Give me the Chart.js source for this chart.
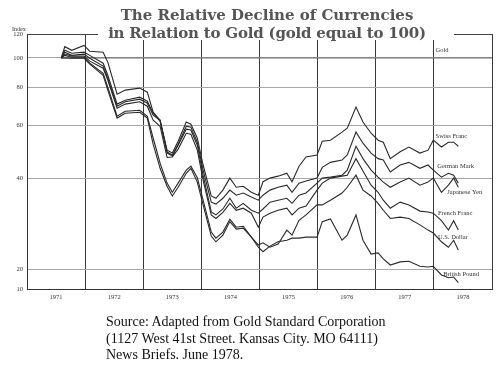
<!DOCTYPE html>
<html lang="en">
<head>
<meta charset="UTF-8">
<title>The Relative Decline of Currencies in Relation to Gold</title>
<script src="https://cdn.jsdelivr.net/npm/chart.js"></script>
<style>
    body { margin: 0; background: #fff; }
    #wrap { position: relative; width: 500px; height: 373px; }
    #chart { position: absolute; left: 0; top: 0; }
    .title {
        position: absolute; left: 0; width: 534px; text-align: center;
        font-family: "DejaVu Serif", serif; font-weight: bold; font-size: 15px;
        color: #555; white-space: nowrap; line-height: 18px;
    }
    #titleBg { position: absolute; left: 98px; top: 26px; width: 356px; height: 14px; background: #fff; }
    #index { position: absolute; left: 12px; top: 26px; font: 6px "Liberation Serif", serif; color: #333; }
    #source {
        position: absolute; left: 106px; top: 314px;
        font-family: "Liberation Serif", serif; font-size: 14px; line-height: 16.5px; color: #111;
    }
</style>
</head>
<body>
<div id="wrap">
    <canvas id="chart" width="500" height="373"></canvas>
    <div id="titleBg"></div>
    <div class="title" style="top:6px">The Relative Decline of Currencies</div>
    <div class="title" style="top:24px; letter-spacing:-0.2px">in Relation to Gold (gold equal to 100)</div>
    <div id="index">Index</div>
    <div id="source">Source: Adapted from Gold Standard Corporation<br>(1127 West 41st Street. Kansas City. MO 64111)<br>News Briefs. June 1978.</div>
</div>
<script>
// time points (decimal years) shared by all currencies
const years = [1971.59, 1971.65, 1971.77, 1971.98, 1972.08, 1972.31, 1972.39, 1972.55, 1972.69, 1972.94,
    1973.07, 1973.17, 1973.29, 1973.41, 1973.50, 1973.60, 1973.74, 1973.82, 1973.93, 1974.03,
    1974.17, 1974.25, 1974.37, 1974.49, 1974.60, 1974.72, 1974.86, 1974.98, 1975.06, 1975.18,
    1975.32, 1975.47, 1975.56, 1975.68, 1975.80, 1975.99, 1976.08, 1976.22, 1976.42, 1976.51,
    1976.66, 1976.78, 1976.92, 1977.04, 1977.13, 1977.25, 1977.42, 1977.57, 1977.76, 1977.90,
    1977.99, 1978.13, 1978.25, 1978.34, 1978.42];

const swissFranc = [100, 104.5, 102, 103, 99.8, 94, 85.7, 69.3, 71.7, 73.1,
    70.9, 64.7, 62.3, 49.6, 48.5, 53.1, 61.4, 60.4, 54.3, 44.3,
    35, 34.4, 36.6, 40.1, 37.4, 37.7, 36, 35.2, 39, 40.1,
    40.7, 41.6, 39, 43.9, 47.1, 47.8, 53.1, 53.5, 56.9, 58.6,
    68.8, 61.4, 56.4, 53.5, 52.7, 46.5, 49, 50.8, 48.5, 49.6,
    53.5, 50.8, 52.7, 52.7, 51.1];
const germanMark = [100, 106, 103.7, 104.5, 102, 96.1, 87.7, 70.4, 72.5, 74.2,
    72, 65.7, 61.8, 48.9, 47.8, 51.9, 59.5, 59.1, 52.7, 42.6,
    33.4, 32.9, 34.4, 36.6, 35.2, 35.8, 34.7, 33.9, 35.2, 36.6,
    37.4, 38, 36, 38.6, 39.2, 40.1, 43.5, 45.2, 46, 47.8,
    56.9, 52.3, 48.5, 46.5, 46, 42, 44.3, 45.2, 43.2, 44.3,
    42.6, 40.4, 41.6, 41, 38.6];
const japaneseYen = [100, 109, 106, 110, 105.3, 104.5, 96.9, 75.9, 78.3, 79.5,
    77.1, 66.2, 62.3, 48.5, 47.4, 51.5, 58.2, 57.8, 51.5, 41,
    31, 30.3, 31.7, 34.4, 31.9, 33.1, 31.4, 30.7, 31.7, 33.4,
    33.9, 34.4, 33.1, 35.2, 35.8, 38.6, 40.1, 40.4, 41, 42.6,
    51.1, 46.5, 42.6, 40.4, 38.9, 37.4, 38.9, 40.1, 38, 38.9,
    40.1, 36, 38, 40.1, 37.4];
const frenchFranc = [100, 103, 101.4, 101.4, 97.6, 92.5, 84.5, 68.2, 70.4, 71.7,
    69.3, 62.3, 59.5, 46.9, 47.1, 50, 56.4, 56, 49.6, 39.5,
    30.3, 29.5, 30.9, 33.1, 31.4, 31.9, 30.7, 27.6, 29.8, 30.7,
    31.4, 31.9, 30.3, 31.9, 32.4, 36.6, 38.6, 40.1, 40.7, 41,
    46.5, 42.3, 38, 36, 33.9, 31.9, 33.4, 32.7, 31.2, 31,
    30.7, 29, 27, 29, 27];
const usDollar = [100, 100, 99.8, 99.8, 95.4, 87.7, 78.3, 63.3, 65.7, 66.2,
    63.3, 51.9, 43.2, 37.7, 35, 37.4, 41.6, 43.2, 38.9, 32.7,
    25.8, 24.7, 26, 28.8, 27.2, 27.4, 25.6, 24.1, 24.5, 23.7,
    24.3, 27, 26, 29.1, 30.3, 32.7, 32.7, 33.9, 35.8, 37.4,
    41, 36.6, 35, 33.1, 31.4, 29.5, 29.8, 29.5, 28.1, 27,
    26.4, 24.7, 23.7, 25, 23.2];
const britishPound = [100, 102, 100.5, 100.5, 96.1, 89, 80.1, 64.2, 66.7, 67.2,
    64.2, 54.4, 44.9, 38.6, 36, 38.6, 42.6, 43.9, 40.2, 33.9,
    26.6, 25.4, 26.6, 29.3, 27.6, 27.8, 25.6, 23.7, 22.9, 23.9,
    24.7, 25, 25.4, 25.4, 25.6, 25.6, 28.8, 29.4, 25, 26,
    30.3, 25, 22.5, 22.7, 21.7, 20.7, 21.2, 21.3, 20.5, 20.4,
    20.5, 19.2, 18.8, 18.9, 18.1];
const goldYears = [1971.59, 1979];
const gold = [100, 100];

const currencyNames = ['Swiss Franc', 'German Mark', 'Japanese Yen', 'French Franc', 'U.S. Dollar', 'British Pound'];
const yearLabels = ['1971', '1972', '1973', '1974', '1975', '1976', '1977', '1978'];
const yTickValues = [17.25, 20, 40, 60, 80, 100, 120];   // 17.25 is the broken axis floor
const yTickLabels = ['10', '20', '40', '60', '80', '100', '120'];

const toPoints = (xs, ys) => xs.map((x, i) => ({ x: x, y: ys[i] }));
const lineStyle = { borderColor: '#2a2a2a', borderWidth: 1.1, pointRadius: 0, tension: 0, fill: false };

const datasets = [swissFranc, germanMark, japaneseYen, frenchFranc, usDollar, britishPound].map((vals, i) =>
    Object.assign({ label: currencyNames[i], data: toPoints(years, vals) }, lineStyle));
datasets.push(Object.assign({ label: 'Gold', data: toPoints(goldYears, gold) }, lineStyle, { borderColor: '#666', borderWidth: 1 }));

// text next to the line ends, placed in data units
const endLabels = [
    { text: 'Gold', x: 1978.03, y: 106 },
    { text: 'Swiss Franc', x: 1978.03, y: 55.2 },
    { text: 'German Mark', x: 1978.06, y: 43.8 },
    { text: 'Japanese Yen', x: 1978.23, y: 35.9 },
    { text: 'French Franc', x: 1978.07, y: 30.6 },
    { text: 'U.S. Dollar', x: 1978.07, y: 25.6 },
    { text: 'British Pound', x: 1978.16, y: 19.3 }
];

const labelPlugin = {
    id: 'endLabels',
    afterDatasetsDraw(chart) {
        const ctx = chart.ctx, xs = chart.scales.x, ys = chart.scales.y;
        ctx.save();
        ctx.font = '6.5px "Liberation Serif", serif';
        ctx.fillStyle = '#333';
        ctx.textBaseline = 'middle';
        endLabels.forEach(l => ctx.fillText(l.text, xs.getPixelForValue(l.x), ys.getPixelForValue(l.y)));
        ctx.restore();
    }
};

new Chart(document.getElementById('chart'), {
    type: 'line',
    data: { datasets: datasets },
    plugins: [labelPlugin],
    options: {
        responsive: false,
        animation: false,
        devicePixelRatio: 1,
        layout: { padding: { left: 0, right: 8, top: 34, bottom: 70 } },
        plugins: { legend: { display: false }, tooltip: { enabled: false } },
        scales: {
            x: {
                type: 'linear', min: 1971, max: 1979,
                afterBuildTicks: s => { s.ticks = []; for (let i = 0; i <= 16; i++) s.ticks.push({ value: 1971 + i / 2 }); },
                afterFit: s => { s.height = 14; },
                grid: {
                    drawTicks: false,
                    color: c => (c.tick && Number.isInteger(c.tick.value)) ? '#3a3a3a' : 'rgba(0,0,0,0)'
                },
                border: { color: '#333' },
                ticks: {
                    autoSkip: false, maxRotation: 0, padding: 4, color: '#333',
                    font: { family: 'Liberation Serif', size: 6.5 },
                    callback: v => Number.isInteger(v) ? '' : yearLabels[Math.floor(v) - 1971]
                }
            },
            y: {
                type: 'logarithmic', min: 17.25, max: 120,
                afterBuildTicks: s => { s.ticks = yTickValues.map(v => ({ value: v })); },
                afterFit: s => { s.width = 27; },
                grid: {
                    drawTicks: false,
                    color: c => c.tick.value === 120 ? '#444' : '#a8a8a8'
                },
                border: { color: '#333' },
                ticks: {
                    padding: 4, color: '#333',
                    font: { family: 'Liberation Serif', size: 6.5 },
                    callback: v => yTickLabels[yTickValues.indexOf(v)]
                }
            }
        }
    }
});
</script>
</body>
</html>
